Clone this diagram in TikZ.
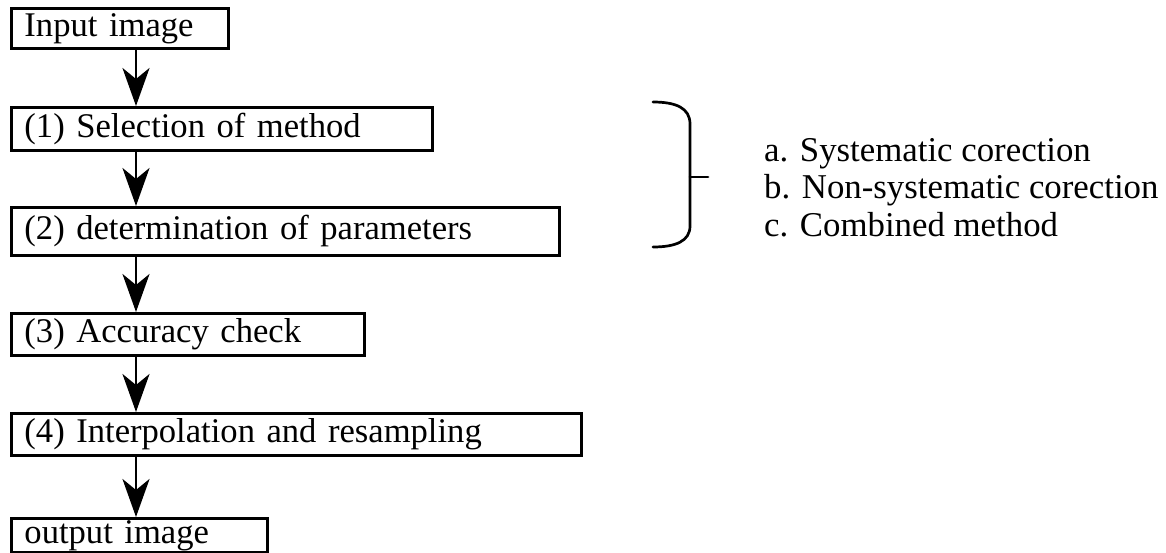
\documentclass[tikz,border=0pt]{standalone}
\usepackage{fontspec}
\setmainfont{Liberation Serif}
\usetikzlibrary{arrows.meta}
\begin{document}
\begin{tikzpicture}[x=1pt,y=-1pt,
  box/.style={draw, line width=2.9pt, anchor=north west, align=left,
    inner xsep=13pt, inner ysep=0pt, text height=24pt, text depth=7.6pt,
    font=\fontsize{34.6pt}{37.5pt}\selectfont},
  arr/.style={line width=2.9pt, -{Stealth[length=38pt,width=27pt,inset=11pt]}},
  item/.style={anchor=base west, inner sep=0pt, font=\fontsize{34.8pt}{37.5pt}\selectfont},
  bracestyle/.style={line width=2.7pt, line cap=round}]
\useasboundingbox[fill=white] (0,0) rectangle (1166,552);
\node[box, minimum width=217pt, text width=191pt, minimum height=40pt] (in) at (10,7) {Input image};
\node[box, minimum width=421pt, text width=395pt, minimum height=43pt] (s1) at (10,106) {(1) Selection of method};
\node[box, minimum width=548pt, text width=522pt, minimum height=48pt] (s2) at (10,206) {(2) determination of parameters};
\node[box, minimum width=353pt, text width=327pt, minimum height=42pt] (s3) at (10,312) {(3) Accuracy check};
\node[box, minimum width=570pt, text width=544pt, minimum height=42pt] (s4) at (10,412) {(4) Interpolation and resampling};
\node[box, minimum width=256pt, text width=230pt, minimum height=34pt] (out) at (10,517) {output image};
\coordinate (ax) at (136,0);
\draw[arr] (in.south -| ax) -- (s1.north -| ax);
\draw[arr] (s1.south -| ax) -- (s2.north -| ax);
\draw[arr] (s2.south -| ax) -- (s3.north -| ax);
\draw[arr] (s3.south -| ax) -- (s4.north -| ax);
\draw[arr] (s4.south -| ax) -- (out.north -| ax);
% brace
\draw[bracestyle] (653,102) .. controls (676,102) and (690,108) .. (690,124) -- (690,226) .. controls (690,241) and (676,247) .. (653,247);
\draw[bracestyle] (690,177) -- (708,177);
\node[item] (a) at (764,161) {a. Systematic corection};
\node[item] (b) at (764,198) {b. Non-systematic corection};
\node[item] (c) at (764,236) {c. Combined method};
\end{tikzpicture}
\end{document}
